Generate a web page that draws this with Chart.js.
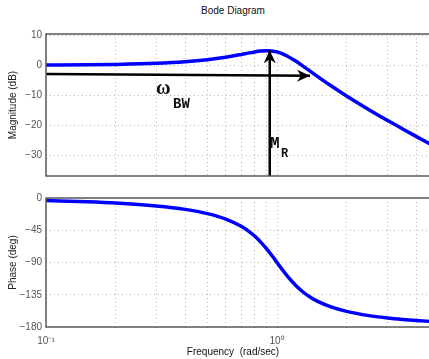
<!DOCTYPE html>
<html>
<head>
<meta charset="utf-8">
<script src="https://cdn.jsdelivr.net/npm/chart.js@4.4.1/dist/chart.umd.min.js"></script>
<style>
  body { margin: 0; width: 429px; height: 359px; overflow: hidden; background: #fff; position: relative; font-family: 'Liberation Sans', Arial, sans-serif; }
  canvas { position: absolute; left: 0; }
  .txt { position: absolute; white-space: pre; line-height: 1; color: #111; }
</style>
</head>
<body>
<div class="txt" id="title" style="font-size:10px; left:0; width:466px; text-align:center; top:6px;">Bode Diagram</div>
<canvas id="mag" width="440" height="186" style="top:0"></canvas>
<canvas id="ph" width="440" height="171" style="top:188px"></canvas>
<div class="txt" style="font-size:10px; left:0; width:466px; text-align:center; top:347px;">Frequency  (rad/sec)</div>
<div class="txt" style="font:bold 20px 'Liberation Serif', serif; left:156px; top:76px;">ω</div>
<div class="txt" style="font:bold 14px 'Liberation Mono', monospace; left:173px; top:96px;">BW</div>
<div class="txt" style="font:bold 16px 'Liberation Mono', monospace; left:270px; top:135px;">M</div>
<div class="txt" style="font:bold 12px 'Liberation Mono', monospace; left:281px; top:147px;">R</div>
<script>
// frequency points (rad/sec)
const freq = [0.1, 0.15, 0.2, 0.3, 0.4, 0.5, 0.6, 0.7, 0.75, 0.8, 0.85, 0.9, 0.95, 1.0, 1.05, 1.1, 1.2, 1.3, 1.4, 1.5, 1.7, 2, 2.5, 3, 3.5, 4, 4.6, 5];
const magDb = [0.07, 0.16, 0.29, 0.65, 1.17, 1.85, 2.68, 3.60, 4.05, 4.44, 4.72, 4.85, 4.76, 4.44, 3.90, 3.19, 1.48, -0.35, -2.11, -3.75, -6.64, -10.19, -14.74, -18.28, -21.17, -23.63, -26.17, -27.67];
const phaseDeg = [-3.5, -5.3, -7.1, -11.2, -15.9, -21.8, -29.4, -39.5, -45.8, -53.1, -61.5, -70.6, -80.3, -90, -99.2, -107.7, -121.4, -131.5, -138.8, -144.3, -151.6, -158.2, -164.1, -167.3, -169.4, -170.9, -172.2, -172.9];

// annotation arrows: bandwidth (horizontal) and resonant peak (vertical)
const bwArrowX = [0.1, 1.39];
const bwArrowY = [-2.9, -3.5];
const mrArrowX = [0.93, 0.93];
const mrArrowY = [-36.8, 5.0];

const xGrid = [0.1, 0.2, 0.3, 0.4, 0.5, 0.6, 0.7, 0.8, 0.9, 1, 2, 3, 4];
const xLabels = {0.1: '10\u207B\u00B9', 1: '10\u2070'};
const magTicks = [10, 0, -10, -20, -30];
const phaseTicks = [0, -45, -90, -135, -180];

const pts = (xs, ys) => xs.map((x, i) => ({x: x, y: ys[i]}));
const minus = v => v < 0 ? '\u2212' + Math.abs(v) : String(v);

const tickFont = {family: "'Liberation Sans', Arial, sans-serif", size: 10};
const gridStyle = {color: '#b8b8b8', lineWidth: 1, drawTicks: false};

const framePlugin = {
  id: 'frame',
  afterDatasetsDraw(chart) {
    const ctx = chart.ctx;
    chart.data.datasets.forEach((ds, i) => {
      if (!ds.arrow) return;
      const d = chart.getDatasetMeta(i).data;
      const p0 = d[d.length - 2], p1 = d[d.length - 1];
      const a = Math.atan2(p1.y - p0.y, p1.x - p0.x);
      const len = 13, half = 6;
      const c = Math.cos(a), s = Math.sin(a);
      ctx.save();
      ctx.fillStyle = '#000';
      ctx.beginPath();
      ctx.moveTo(p1.x, p1.y);
      ctx.lineTo(p1.x - len * c + half * s, p1.y - len * s - half * c);
      ctx.lineTo(p1.x - 0.7 * len * c, p1.y - 0.7 * len * s);
      ctx.lineTo(p1.x - len * c - half * s, p1.y - len * s + half * c);
      ctx.closePath();
      ctx.fill();
      ctx.restore();
    });
  },
  afterDraw(chart) {
    const {ctx, chartArea: a} = chart;
    ctx.save();
    ctx.strokeStyle = '#5a5a5a';
    ctx.lineWidth = 1.5;
    ctx.strokeRect(a.left, a.top, a.right - a.left, a.bottom - a.top);
    ctx.restore();
  }
};

function xScale(showLabels, height) {
  return {
    type: 'logarithmic',
    min: 0.1,
    max: 4.83,
    afterBuildTicks: s => { s.ticks = xGrid.map(v => ({value: v})); },
    afterFit: s => { s.height = height; },
    grid: gridStyle,
    border: {display: false, dash: [1, 3]},
    ticks: {
      display: showLabels,
      autoSkip: false,
      maxRotation: 0,
      padding: 8,
      color: '#555',
      font: tickFont,
      callback: v => xLabels[v] || ''
    }
  };
}

function yScale(min, max, ticks, title) {
  return {
    min: min,
    max: max,
    afterBuildTicks: s => { s.ticks = ticks.map(v => ({value: v})); },
    afterFit: s => { s.width = 46; },
    grid: gridStyle,
    border: {display: false, dash: [1, 3]},
    ticks: {color: '#555', font: tickFont, padding: 4, callback: v => minus(v)},
    title: {display: true, text: title, color: '#222', font: tickFont, padding: {top: 7, bottom: 0}}
  };
}

const common = {
  responsive: false,
  animation: false,
  devicePixelRatio: 1,
  plugins: {legend: {display: false}, tooltip: {enabled: false}, title: {display: false}},
  elements: {point: {radius: 0}}
};

new Chart(document.getElementById('mag'), {
  type: 'line',
  data: {
    datasets: [
      {data: pts(freq, magDb), borderColor: '#0000ff', borderWidth: 3.5, cubicInterpolationMode: 'monotone', order: 1},
      {data: pts(bwArrowX, bwArrowY), borderColor: '#000', borderWidth: 2.5, arrow: true, order: 0},
      {data: pts(mrArrowX, mrArrowY), borderColor: '#000', borderWidth: 2.5, arrow: true, order: 0}
    ]
  },
  options: Object.assign({}, common, {
    layout: {padding: {top: 34, left: 0, right: 5, bottom: 0}},
    scales: {
      x: xScale(false, 3),
      y: yScale(-36.8, 10.4, magTicks, 'Magnitude (dB)')
    }
  }),
  plugins: [framePlugin]
});

new Chart(document.getElementById('ph'), {
  type: 'line',
  data: {
    datasets: [
      {data: pts(freq, phaseDeg), borderColor: '#0000ff', borderWidth: 3.5, cubicInterpolationMode: 'monotone'}
    ]
  },
  options: Object.assign({}, common, {
    layout: {padding: {top: 7, left: 0, right: 5, bottom: 0}},
    scales: {
      x: xScale(true, 32),
      y: yScale(-180, 0, phaseTicks, 'Phase (deg)')
    }
  }),
  plugins: [framePlugin]
});
</script>
</body>
</html>
